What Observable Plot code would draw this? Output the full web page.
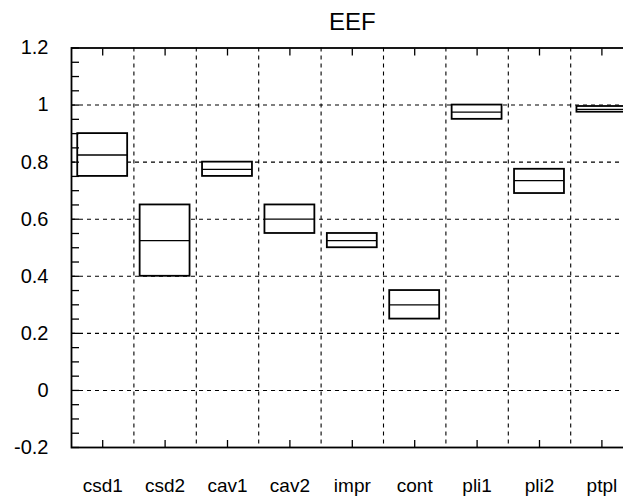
<!DOCTYPE html>
<html>
<head>
<meta charset="utf-8">
<script src="https://cdn.jsdelivr.net/npm/d3@7"></script>
<script src="https://cdn.jsdelivr.net/npm/@observablehq/plot@0.6"></script>
<style>
  html, body { margin: 0; padding: 0; background: #fff; }
  #chart { width: 623px; height: 499px; overflow: hidden; }
</style>
</head>
<body>
<div id="chart"></div>
<script>
// ---- data ----
const title = "EEF";
const categories = ["csd1", "csd2", "cav1", "cav2", "impr", "cont", "pli1", "pli2", "ptpl"];
const lowValues  = [0.75, 0.40, 0.75, 0.55, 0.50, 0.25, 0.95, 0.69, 0.975];
const midValues  = [0.825, 0.525, 0.775, 0.60, 0.525, 0.30, 0.975, 0.735, 0.985];
const highValues = [0.90, 0.65, 0.80, 0.65, 0.55, 0.35, 1.00, 0.775, 0.995];
const yMajorTicks = [-0.2, 0, 0.2, 0.4, 0.6, 0.8, 1, 1.2];
const yMinorStep = 0.05;

// ---- derived tables ----
const rows = categories.map((c, i) => ({
  cat: c, i, low: lowValues[i], mid: midValues[i], high: highValues[i]
}));
const centers = categories.map((c, i) => i + 0.5);
const boundaries = d3.range(1, categories.length);
const yMin = yMajorTicks[0], yMax = yMajorTicks[yMajorTicks.length - 1];
const yMinorTicks = d3.range(Math.round((yMax - yMin) / yMinorStep) + 1).map(k => +(yMin + k * yMinorStep).toFixed(3));
const innerGrid = yMajorTicks.slice(1, -1);
const fmt = d => String(+(+d).toFixed(2));
const pad = 0.1;

const font = "'Liberation Sans', Arial, Helvetica, sans-serif";

const chart = Plot.plot({
  width: 623,
  height: 499,
  marginLeft: 71,
  marginRight: -9.6,
  marginTop: 47.5,
  marginBottom: 52,
  style: { fontFamily: font, background: "white", color: "black", overflow: "hidden" },
  x: { type: "linear", domain: [0, categories.length] },
  y: { type: "linear", domain: [yMin, yMax] },
  marks: [
    // dotted grid
    Plot.gridY(innerGrid, { stroke: "black", strokeOpacity: 1, strokeWidth: 1.1, strokeDasharray: "4,4" }),
    Plot.gridX(boundaries, { stroke: "black", strokeOpacity: 1, strokeWidth: 1.1, strokeDasharray: "4,4" }),
    // boxes
    Plot.rect(rows, {
      x1: d => d.i + pad, x2: d => d.i + 1 - pad,
      y1: "low", y2: "high",
      fill: "white", stroke: "black", strokeWidth: 1.8
    }),
    Plot.ruleY(rows, {
      y: "mid", x1: d => d.i + pad, x2: d => d.i + 1 - pad,
      stroke: "black", strokeWidth: 1.3
    }),
    // inner ticks
    Plot.axisY(yMinorTicks, { anchor: "left", tickSize: -8, tickFormat: () => "", strokeWidth: 1.3 }),
    Plot.axisX(centers, { anchor: "bottom", tickSize: -7, tickFormat: () => "", strokeWidth: 1.3 }),
    Plot.axisX(centers, { anchor: "top", tickSize: -7, tickFormat: () => "", strokeWidth: 1.3 }),
    // labels
    Plot.axisY(yMajorTicks, { anchor: "left", tickSize: 0, tickPadding: 23, tickFormat: fmt, fontSize: 20, label: null }),
    Plot.axisX(centers, { anchor: "bottom", tickSize: 0, tickPadding: 31, tickFormat: d => categories[Math.floor(d)], fontSize: 19, label: null }),
    // frame
    Plot.frame({ stroke: "black", strokeWidth: 1.8 }),
    // title
    Plot.text([title], { frameAnchor: "top", lineAnchor: "bottom", dy: -18, fontSize: 24, fill: "black" })
  ]
});
document.getElementById("chart").appendChild(chart);
</script>
</body>
</html>
